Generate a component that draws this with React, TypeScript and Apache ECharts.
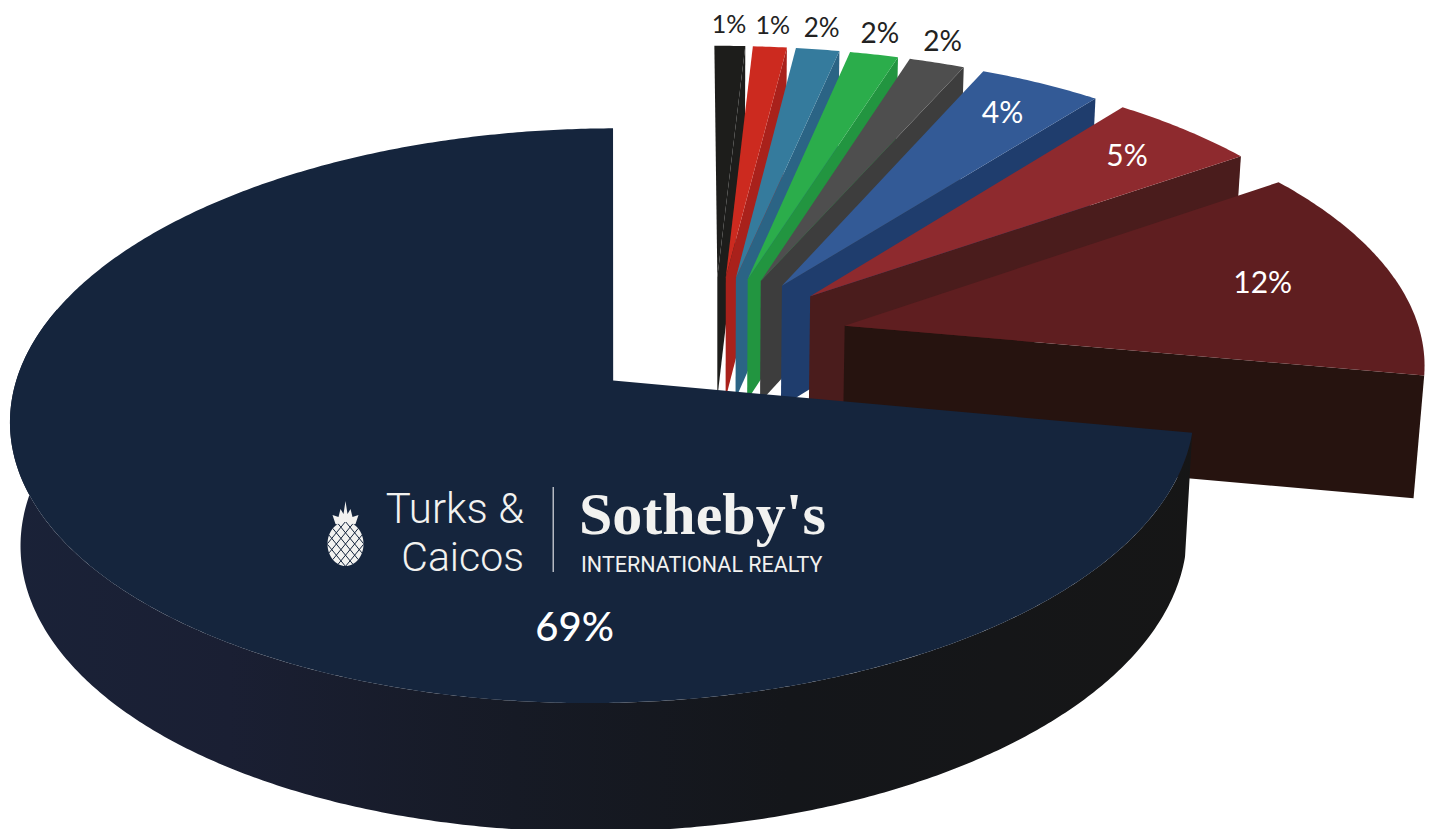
import React, { useEffect, useRef } from "react";
import * as echarts from "echarts";

// Slices in clockwise order from twelve o'clock.
const sliceKeys = ["black", "red", "teal", "green", "grey", "blue", "crimson", "maroon", "navy"];
// Percentages printed on the slices.
const printedPercents = [1, 1, 2, 2, 2, 4, 5, 12, 69];
// Share of the circle each wedge really occupies in the picture (it differs from the printed figure).
const drawnShares = [0.98, 1.08, 1.39, 1.55, 1.78, 3.92, 4.77, 12.5, 72.03];

const topColors = ["#1d1d1b", "#cc2a1f", "#357b9d", "#2bad4b", "#4e4e4e", "#335a96", "#8e2a2e", "#5f1e20", "#15253d"];
const wallColors = ["#1d1d1b", "#a9211b", "#2b6485", "#229540", "#3d3d3d", "#1f3d6d", "#4a1c1c", "#26130f", "#17181f"];
const labelColors = ["#222", "#222", "#222", "#222", "#222", "#fff", "#fff", "#fff", "#fff"];
const labelSizes = [25, 25, 26, 28, 28, 30, 30, 30, 40];
const labelRadii = [1.1, 1.1, 1.1, 1.1, 1.1, 0.84, 0.835, 0.764, 0.79];
const labelAngleNudges = [-0.2, -0.1, -0.35, -0.6, -1.1, 0, 0, 0, 0];

// Projection of the tilted pie onto the page.
const CX = 714;
const CY = 339;
const SCALE_X = 577;
const SCALE_Y = 273;
const PERSPECTIVE = 0.12;
const EXPLODE = 0.233;
const NAVY_LABEL_ANGLE = 182.6;
const NAVY_APEX_NUDGE = 0.007;
const NAVY_RIM_NUDGE = -0.009;
const rad = (d: number) => (d * Math.PI) / 180;

function project(X: number, Y: number): number[] {
  const w = 1 + PERSPECTIVE * Y;
  return [CX + (SCALE_X * X) / w, CY - (SCALE_Y * Y) / w];
}
function lower(p: number[]): number[] {
  return [p[0] + (CX - p[0]) * 0.015, p[1] + 116 + 0.018 * p[1]];
}
function onSlice(mid: number, angle: number, r: number, nudge = 0): number[] {
  return project(
    nudge + EXPLODE * Math.sin(rad(mid)) + r * Math.sin(rad(angle)),
    EXPLODE * Math.cos(rad(mid)) + r * Math.cos(rad(angle))
  );
}
function arc(mid: number, from: number, to: number, nudge = 0): number[][] {
  const n = Math.max(2, Math.ceil(Math.abs(to - from) / 0.5));
  const pts: number[][] = [];
  for (let k = 0; k <= n; k++) pts.push(onSlice(mid, from + ((to - from) * k) / n, 1, nudge));
  return pts;
}

const START_ANGLE = -0.3;
const sumBefore = (i: number) => drawnShares.slice(0, i).reduce((a, b) => a + b, 0);

function renderSlice(params: any, api: any) {
  const i = api.value(0) as number;
  const share = api.value(1) as number;
  const from = START_ANGLE + sumBefore(i) * 3.6;
  const to = from + share * 3.6;
  const mid = (from + to) / 2;
  const isNavy = sliceKeys[i] === "navy";
  const apex = onSlice(mid, mid, 0, isNavy ? NAVY_APEX_NUDGE : 0);
  const rim = arc(mid, from, to, isNavy ? NAVY_RIM_NUDGE : 0);
  const children: any[] = [];
  if (isNavy) {
    const front = arc(mid, from, 285, NAVY_RIM_NUDGE);
    children.push({
      type: "polygon",
      shape: { points: [...front, ...front.map(lower).reverse()] },
      style: {
        fill: new echarts.graphic.LinearGradient(
          0, 0, 1432, 0,
          [
            { offset: 0, color: "#1a2238" },
            { offset: 0.16, color: "#1a1f33" },
            { offset: 0.36, color: "#161a25" },
            { offset: 0.55, color: "#14161a" },
            { offset: 0.85, color: "#161616" },
            { offset: 1, color: "#161616" },
          ],
          true
        ),
      },
    });
  } else {
    const end = rim[rim.length - 1];
    children.push({
      type: "polygon",
      shape: { points: [apex, end, lower(end), lower(apex)] },
      style: { fill: wallColors[i] },
    });
  }
  children.push({
    type: "polygon",
    shape: { points: [apex, ...rim] },
    style: { fill: topColors[i] },
  });
  const labelAngle = isNavy ? NAVY_LABEL_ANGLE : mid + labelAngleNudges[i];
  const at = onSlice(mid, labelAngle, labelRadii[i]);
  children.push({
    type: "text",
    z2: 5,
    style: {
      text: `${api.value(2)}%`,
      x: at[0],
      y: at[1] - 2,
      align: "center",
      verticalAlign: "middle",
      fill: labelColors[i],
      font: `${isNavy ? 500 : 400} ${labelSizes[i]}px Lato, sans-serif`,
    },
  });
  return { type: "group", children };
}

const LOGO = "#f2f2f0";
const NAVY = "#15253d";
function pineapple(): any[] {
  const cx = 345.5;
  const cy = 544;
  const rx = 18;
  const ry = 22;
  const items: any[] = [
    { type: "ellipse", shape: { cx, cy, rx, ry }, style: { fill: LOGO }, z: 10 },
    {
      type: "polygon",
      z: 10,
      shape: {
        points: [[-10, -20], [-13, -29], [-7, -27], [-5, -35], [-2, -30], [0, -43], [2, -30], [5, -35], [7, -27], [13, -29], [10, -20], [0, -17]].map(
          ([dx, dy]) => [cx + dx, cy + dy]
        ),
      },
      style: { fill: LOGO },
    },
  ];
  [-0.72, -0.36, 0, 0.36, 0.72].forEach((t) => {
    [1, -1].forEach((side) => {
      const half = Math.sqrt(1 - t * t);
      const nx = 0.707 * side;
      const ny = 0.707;
      const dx = -ny;
      const dy = nx;
      items.push({
        type: "line",
        z: 11,
        shape: {
          x1: cx + rx * (t * nx + half * dx),
          y1: cy + ry * (t * ny + half * dy),
          x2: cx + rx * (t * nx - half * dx),
          y2: cy + ry * (t * ny - half * dy),
        },
        style: { stroke: NAVY, lineWidth: 1 },
      });
    });
  });
  return items;
}

const logoText = (text: string, x: number, y: number, align: string, font: string) => ({
  type: "text",
  z: 10,
  style: { text, x, y, align, verticalAlign: "middle", fill: LOGO, font },
});

export default function App() {
  const ref = useRef<HTMLDivElement>(null);
  useEffect(() => {
    const chart = echarts.init(ref.current!, undefined, { renderer: "svg" });
    chart.setOption({
      animation: false,
      backgroundColor: "#ffffff",
      series: [
        {
          type: "custom",
          coordinateSystem: "none",
          silent: true,
          renderItem: renderSlice,
          data: sliceKeys.map((name, i) => ({ name, value: [i, drawnShares[i], printedPercents[i]] })),
        },
      ],
      graphic: {
        elements: [
          ...pineapple(),
          logoText("Turks &", 524, 508, "right", "300 42px Roboto, sans-serif"),
          logoText("Caicos", 524, 557, "right", "300 41px Roboto, sans-serif"),
          { type: "rect", z: 10, shape: { x: 552.5, y: 487, width: 1.5, height: 85 }, style: { fill: "#b4b9c2" } },
          logoText("Sotheby's", 579, 514, "left", "700 60px 'Liberation Serif', serif"),
          logoText("INTERNATIONAL REALTY", 581, 564, "left", "400 21.5px Roboto, sans-serif"),
        ],
      },
    });
    return () => chart.dispose();
  }, []);
  return <div ref={ref} style={{ position: "fixed", left: 0, top: 0, width: 1432, height: 829 }} />;
}
